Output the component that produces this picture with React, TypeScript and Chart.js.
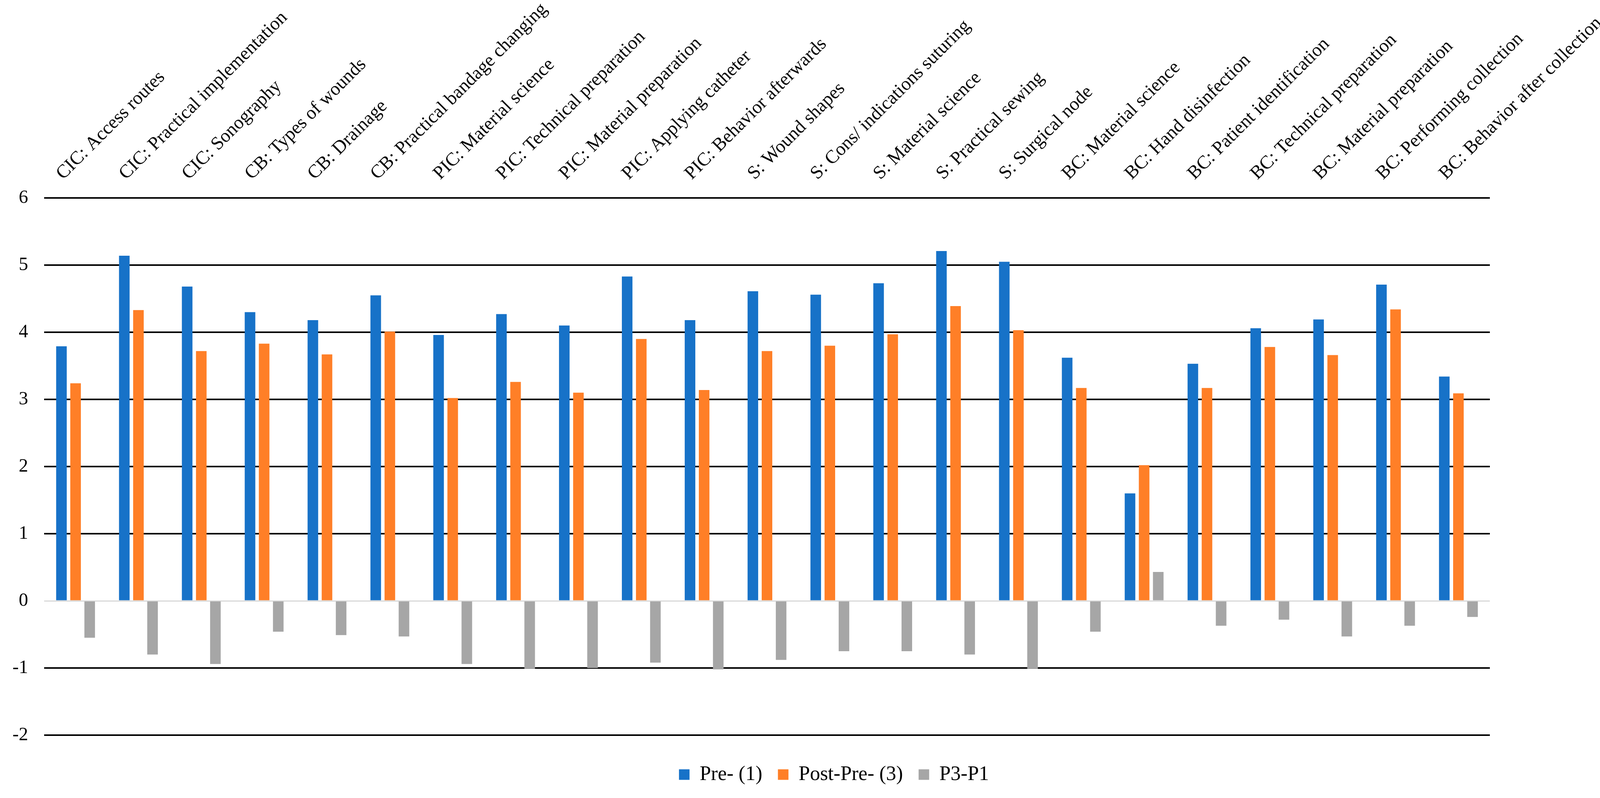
import React, { useEffect, useRef } from 'react';
import { Chart, registerables } from 'chart.js';

Chart.register(...registerables);

const categories = [
  'CIC: Access routes',
  'CIC: Practical implementation',
  'CIC: Sonography',
  'CB: Types of wounds',
  'CB: Drainage',
  'CB: Practical bandage changing',
  'PIC: Material science',
  'PIC: Technical preparation',
  'PIC: Material preparation',
  'PIC: Applying catheter',
  'PIC: Behavior afterwards',
  'S: Wound shapes',
  'S: Cons/ indications suturing',
  'S: Material science',
  'S: Practical sewing',
  'S: Surgical node',
  'BC: Material science',
  'BC: Hand disinfection',
  'BC: Patient identification',
  'BC: Technical preparation',
  'BC: Material preparation',
  'BC: Performing collection',
  'BC: Behavior after collection',
];

const preValues = [3.79, 5.14, 4.68, 4.3, 4.18, 4.55, 3.96, 4.27, 4.1, 4.83, 4.18, 4.61, 4.56, 4.73, 5.21, 5.05, 3.62, 1.6, 3.53, 4.06, 4.19, 4.71, 3.34];
const postValues = [3.24, 4.33, 3.72, 3.83, 3.67, 4.01, 3.02, 3.26, 3.1, 3.9, 3.14, 3.72, 3.8, 3.97, 4.39, 4.03, 3.17, 2.02, 3.17, 3.78, 3.66, 4.34, 3.09];
const diffValues = [-0.55, -0.8, -0.94, -0.46, -0.51, -0.53, -0.94, -1.01, -1.0, -0.92, -1.02, -0.88, -0.75, -0.75, -0.8, -1.01, -0.46, 0.43, -0.37, -0.28, -0.53, -0.37, -0.24];

const seriesNames = ['Pre- (1)', 'Post-Pre- (3)', 'P3-P1'];
const seriesColors = ['#1772c8', '#ff7f27', '#a6a6a6'];

const yMin = -2;
const yMax = 6;
const yStep = 1;

const FONT = "'Times New Roman', 'Liberation Serif', serif";

export default function App() {
  const ref = useRef<HTMLCanvasElement>(null);

  useEffect(() => {
    document.body.style.margin = '0';
    const legendShift = {
      id: 'legendShift',
      afterLayout(chart: any) {
        const l = chart.legend;
        if (l) {
          l.left += 47;
          l.right += 47;
          l.top += 35;
          l.bottom += 35;
        }
      },
    };
    const seriesData = [preValues, postValues, diffValues];
    const chart = new Chart(ref.current as HTMLCanvasElement, {
      type: 'bar',
      data: {
        labels: categories,
        datasets: seriesNames.map((name, i) => ({
          label: name,
          data: seriesData[i],
          backgroundColor: seriesColors[i],
          borderWidth: 0,
          categoryPercentage: 0.674,
          barPercentage: 0.75,
        })),
      },
      options: {
        responsive: false,
        animation: false,
        devicePixelRatio: 1,
        layout: { padding: { left: 0, right: 0, top: 0, bottom: 59 } },
        plugins: {
          legend: {
            position: 'bottom',
            labels: {
              boxWidth: 27,
              boxHeight: 27,
              padding: 40,
              color: '#000',
              font: { family: FONT, size: 52 },
            },
          },
          tooltip: { enabled: false },
        },
        scales: {
          x: {
            position: 'top',
            grid: { display: false, drawTicks: false },
            border: { display: false },
            afterFit: (s: any) => {
              s.height = 507;
              s.paddingLeft = 0;
              s.paddingRight = 362;
            },
            ticks: {
              autoSkip: false,
              minRotation: 45,
              maxRotation: 45,
              padding: 34,
              color: '#000',
              font: { family: FONT, size: 48 },
            },
          },
          y: {
            min: yMin,
            max: yMax,
            afterFit: (s: any) => {
              s.width = 113;
            },
            ticks: {
              stepSize: yStep,
              padding: 41,
              color: '#000',
              font: { family: FONT, size: 48 },
            },
            grid: {
              drawTicks: false,
              color: (c: any) => (c.tick && c.tick.value === 0 ? '#d9d9d9' : '#000000'),
              lineWidth: (c: any) => (c.tick && c.tick.value === 0 ? 3 : 4),
            },
            border: { display: false },
          },
        },
      },
      plugins: [legendShift],
    });
    return () => chart.destroy();
  }, []);

  return <canvas ref={ref} width={4176} height={2044} style={{ display: 'block' }} />;
}
